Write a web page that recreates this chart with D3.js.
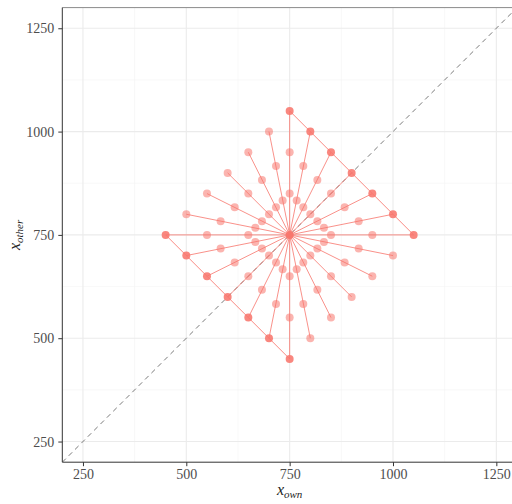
<!DOCTYPE html>
<html>
<head>
<meta charset="utf-8">
<script src="https://cdn.jsdelivr.net/npm/d3@7"></script>
<style>
  html, body { margin: 0; padding: 0; background: #fff; }
  svg { display: block; }
</style>
</head>
<body>
<svg id="chart" width="512" height="504"></svg>
<script>
// ---- data ----
const centerOwn = 750;
const centerOther = 750;
// outer end of each ray
const endOwn   = [450, 500, 550, 600, 650, 700, 750, 750, 800, 850, 900, 950, 1000, 1050, 500, 550, 600, 650, 700, 800, 850, 900, 950, 1000];
const endOther = [750, 700, 650, 600, 550, 500, 450, 1050, 1000, 950, 900, 850, 800, 750, 800, 850, 900, 950, 1000, 500, 550, 600, 650, 700];
// first intermediate point on each ray
const mid1Own   = [650, 667, 683, 700, 717, 733, 750, 750, 767, 783, 800, 817, 833, 850, 667, 683, 700, 717, 733, 767, 783, 800, 817, 833];
const mid1Other = [750, 733, 717, 700, 683, 667, 650, 850, 833, 817, 800, 783, 767, 750, 767, 783, 800, 817, 833, 667, 683, 700, 717, 733];
// second intermediate point on each ray
const mid2Own   = [550, 583, 617, 650, 683, 717, 750, 750, 783, 817, 850, 883, 917, 950, 583, 617, 650, 683, 717, 783, 817, 850, 883, 917];
const mid2Other = [750, 717, 683, 650, 617, 583, 550, 950, 917, 883, 850, 817, 783, 750, 783, 817, 850, 883, 917, 583, 617, 650, 683, 717];
// whether the ray end lies on the highlighted frontier
const onFrontier = [1,1,1,1,1,1,1, 1,1,1,1,1,1,1, 0,0,0,0,0, 0,0,0,0,0];
// frontier paths (indices of ray ends)
const frontierLower = [0, 1, 2, 3, 4, 5, 6];
const frontierUpper = [7, 8, 9, 10, 11, 12, 13];
const tickValues = [250, 500, 750, 1000, 1250];
const minorTicks = [375, 625, 875, 1125];

// ---- layout ----
const svg = d3.select("#chart");
const pLeft = 62.3, pBottom = 462.2, pTop = 7.6, pRight = 517;
const x = d3.scaleLinear().domain([200, 1300]).range([pLeft, pRight]);
const y = d3.scaleLinear().domain([200, 1300]).range([pBottom, pTop]);
const red = "#F8766D";
const font = "'Liberation Serif', 'DejaVu Serif', serif";

svg.append("defs").append("clipPath").attr("id", "clip")
  .append("rect").attr("x", pLeft).attr("y", pTop).attr("width", pRight - pLeft).attr("height", pBottom - pTop);

const panel = svg.append("g").attr("clip-path", "url(#clip)");

// grid
panel.selectAll(".mnx").data(minorTicks).join("line")
  .attr("x1", d => x(d)).attr("x2", d => x(d)).attr("y1", pTop).attr("y2", pBottom)
  .attr("stroke", "#f4f4f4").attr("stroke-width", 0.6);
panel.selectAll(".mny").data(minorTicks).join("line")
  .attr("y1", d => y(d)).attr("y2", d => y(d)).attr("x1", pLeft).attr("x2", pRight)
  .attr("stroke", "#f4f4f4").attr("stroke-width", 0.6);
panel.selectAll(".mjx").data(tickValues).join("line")
  .attr("x1", d => x(d)).attr("x2", d => x(d)).attr("y1", pTop).attr("y2", pBottom)
  .attr("stroke", "#ebebeb").attr("stroke-width", 1.1);
panel.selectAll(".mjy").data(tickValues).join("line")
  .attr("y1", d => y(d)).attr("y2", d => y(d)).attr("x1", pLeft).attr("x2", pRight)
  .attr("stroke", "#ebebeb").attr("stroke-width", 1.1);

// diagonal
panel.append("line")
  .attr("x1", x(200)).attr("y1", y(200)).attr("x2", x(1300)).attr("y2", y(1300))
  .attr("stroke", "#7a7a7a").attr("stroke-width", 1).attr("stroke-dasharray", "5,4");

const idx = d3.range(endOwn.length);

// rays
panel.selectAll(".ray").data(idx).join("line")
  .attr("x1", x(centerOwn)).attr("y1", y(centerOther))
  .attr("x2", i => x(endOwn[i])).attr("y2", i => y(endOther[i]))
  .attr("stroke", red).attr("stroke-opacity", 0.8).attr("stroke-width", 1);

// frontier
const lineGen = d3.line().x(i => x(endOwn[i])).y(i => y(endOther[i]));
[frontierLower, frontierUpper].forEach(p => {
  panel.append("path").attr("d", lineGen(p)).attr("fill", "none")
    .attr("stroke", red).attr("stroke-opacity", 0.85).attr("stroke-width", 1);
});

// points
const r = 4;
panel.selectAll(".m1").data(idx).join("circle")
  .attr("cx", i => x(mid1Own[i])).attr("cy", i => y(mid1Other[i])).attr("r", r)
  .attr("fill", red).attr("fill-opacity", 0.55);
panel.selectAll(".m2").data(idx).join("circle")
  .attr("cx", i => x(mid2Own[i])).attr("cy", i => y(mid2Other[i])).attr("r", r)
  .attr("fill", red).attr("fill-opacity", 0.55);
panel.selectAll(".en").data(idx).join("circle")
  .attr("cx", i => x(endOwn[i])).attr("cy", i => y(endOther[i])).attr("r", r)
  .attr("fill", red).attr("fill-opacity", i => onFrontier[i] ? 0.88 : 0.55);
panel.append("circle").attr("cx", x(centerOwn)).attr("cy", y(centerOther)).attr("r", r)
  .attr("fill", red).attr("fill-opacity", 0.95);

// border: top light, left & bottom dark
svg.append("line").attr("x1", pLeft).attr("x2", pRight).attr("y1", pTop).attr("y2", pTop)
  .attr("stroke", "#8a8a8a").attr("stroke-width", 1);
svg.append("line").attr("x1", pLeft).attr("x2", pLeft).attr("y1", pTop).attr("y2", pBottom)
  .attr("stroke", "#333").attr("stroke-width", 1);
svg.append("line").attr("x1", pLeft).attr("x2", pRight).attr("y1", pBottom).attr("y2", pBottom)
  .attr("stroke", "#333").attr("stroke-width", 1);

// axes
const fmt = d3.format("d");
const xAxis = d3.axisBottom(x).tickValues(tickValues).tickFormat(fmt).tickSize(4).tickPadding(3);
const yAxis = d3.axisLeft(y).tickValues(tickValues).tickFormat(fmt).tickSize(4).tickPadding(4);
const gx = svg.append("g").attr("transform", `translate(0,${pBottom})`).call(xAxis);
const gy = svg.append("g").attr("transform", `translate(${pLeft},0)`).call(yAxis);
[gx, gy].forEach(g => {
  g.select(".domain").remove();
  g.selectAll(".tick line").attr("stroke", "#333").attr("stroke-width", 1);
  g.selectAll(".tick text").attr("fill", "#4d4d4d").style("font-family", font).style("font-size", "14px");
});

// titles
const xt = svg.append("text").attr("x", x(750)).attr("y", 495).attr("text-anchor", "middle")
  .style("font-family", font).style("font-style", "italic").attr("fill", "#222");
xt.append("tspan").style("font-size", "16px").text("x");
xt.append("tspan").style("font-size", "11px").attr("dy", 3).text("own");

const yt = svg.append("text").attr("transform", `translate(20,${y(750)}) rotate(-90)`).attr("text-anchor", "middle")
  .style("font-family", font).style("font-style", "italic").attr("fill", "#222");
yt.append("tspan").style("font-size", "16px").text("x");
yt.append("tspan").style("font-size", "11px").attr("dy", 3).text("other");
</script>
</body>
</html>
